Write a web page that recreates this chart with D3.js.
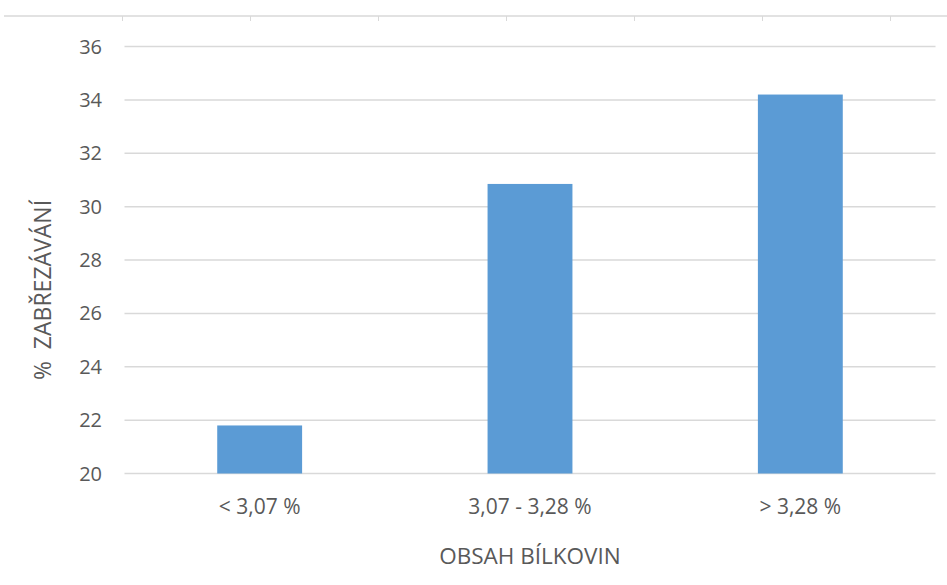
<!DOCTYPE html>
<html><head><meta charset="utf-8">
<script src="https://cdn.jsdelivr.net/npm/d3@7"></script>
<style>
body{margin:0;background:#fff;}
text{font-family:"Open Sans",Lato,sans-serif;fill:#595959;}
</style></head>
<body><svg id="c" width="947" height="585"></svg>
<script>
const categories = ["< 3,07 %", "3,07 - 3,28 %", "> 3,28 %"];
const values = [21.8, 30.85, 34.2];
const yTicks = [20, 22, 24, 26, 28, 30, 32, 34, 36];
const topTicks = [0, 1, 2, 3, 4, 5, 6];
const xTitle = "OBSAH BÍLKOVIN";
const yTitle = "%\u00a0\u00a0ZABŘEZÁVÁNÍ";

const svg = d3.select("#c");
const x = d3.scaleBand().domain(categories).range([124.5, 935.5]).paddingInner(0.686).paddingOuter(0.343);
const y = d3.scaleLinear().domain([20, 36]).range([473.5, 46.5]);

// top decorative axis
const tx = d3.scaleLinear().domain([0, 6]).range([122.5, 890.5]);
svg.append("line").attr("x1", 4).attr("x2", 947).attr("y1", 16).attr("y2", 16)
  .attr("stroke", "#d9d9d9").attr("stroke-width", 1.5);
svg.selectAll(".tt").data(topTicks).join("line")
  .attr("x1", d => tx(d)).attr("x2", d => tx(d)).attr("y1", 16).attr("y2", 21)
  .attr("stroke", "#d9d9d9").attr("stroke-width", 1);

// gridlines
svg.selectAll(".grid").data(yTicks).join("line")
  .attr("x1", 124.5).attr("x2", 935.5)
  .attr("y1", d => y(d)).attr("y2", d => y(d))
  .attr("stroke", "#d9d9d9").attr("stroke-width", 1.5);

// y labels
svg.selectAll(".yl").data(yTicks).join("text")
  .attr("x", 102).attr("y", d => y(d)).attr("dy", "0.35em")
  .attr("text-anchor", "end").style("font-size", "20px").text(d => d);

// bars
svg.selectAll(".bar").data(values).join("rect")
  .attr("x", (d, i) => x(categories[i])).attr("width", x.bandwidth())
  .attr("y", d => y(d)).attr("height", d => y(20) - y(d))
  .attr("fill", "#5b9bd5");

// x labels
svg.selectAll(".xl").data(categories).join("text")
  .attr("x", d => x(d) + x.bandwidth() / 2).attr("y", 507).attr("dy", "0.35em")
  .attr("text-anchor", "middle").style("font-size", "21px").text(d => d);

svg.append("text").attr("x", 530).attr("y", 556).attr("dy", "0.35em")
  .attr("text-anchor", "middle").style("font-size", "22.5px").text(xTitle);

svg.append("text").attr("transform", "translate(43,290) rotate(-90)").attr("dy", "0.35em")
  .attr("text-anchor", "middle").style("font-size", "23px").text(yTitle);
</script></body></html>
